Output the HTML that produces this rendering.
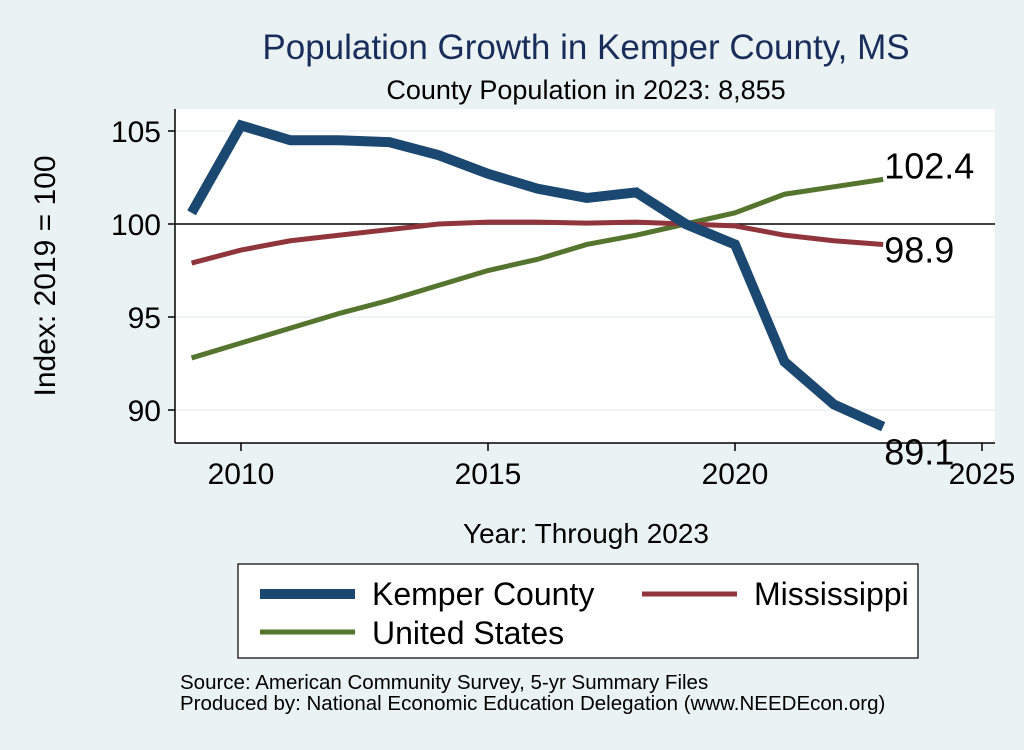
<!DOCTYPE html>
<html><head><meta charset="utf-8"><style>
body{margin:0;background:#eaf2f3;width:1024px;height:745px;overflow:hidden;font-family:"Liberation Sans",sans-serif}
</style></head><body>
<svg width="1024" height="745">
<rect x="0" y="0" width="1024" height="745" fill="#eaf2f3"/>
<text x="586" y="59" font-size="35" fill="#1a2d5a" text-anchor="middle">Population Growth in Kemper County, MS</text>
<text x="586" y="99" font-size="27" fill="#000" text-anchor="middle">County Population in 2023: 8,855</text>
<rect x="175" y="109" width="820" height="334" fill="#fff"/>
<g id="grid"></g>
<line x1="175" y1="109" x2="175" y2="443" stroke="#000" stroke-width="1.5"/>
<line x1="175" y1="443" x2="995" y2="443" stroke="#000" stroke-width="1.5"/>
<g id="ticks"></g>
<g id="series"></g>
<text transform="translate(55,276) rotate(-90)" font-size="30" text-anchor="middle">Index: 2019 = 100</text>
<text x="586" y="543" font-size="28" text-anchor="middle">Year: Through 2023</text>
<g>
<rect x="238" y="564" width="680" height="94" fill="#fff" stroke="#000" stroke-width="1.2"/>
<line x1="260" y1="594" x2="355" y2="594" stroke="#1a4871" stroke-width="10"/>
<text x="372" y="605" font-size="32">Kemper  County</text>
<line x1="642" y1="594" x2="737" y2="594" stroke="#90353b" stroke-width="5"/>
<text x="754" y="605" font-size="32">Mississippi</text>
<line x1="260" y1="632" x2="355" y2="632" stroke="#55752f" stroke-width="5"/>
<text x="372" y="644" font-size="32">United States</text>
</g>
<text x="180" y="689" font-size="20.5">Source: American Community Survey, 5-yr Summary Files</text>
<text x="180" y="710" font-size="20.5">Produced by: National Economic Education Delegation (www.NEEDEcon.org)</text>
</svg>
<script>
const years=[2009,2010,2011,2012,2013,2014,2015,2016,2017,2018,2019,2020,2021,2022,2023];
const kemper=[100.6,105.3,104.5,104.5,104.4,103.7,102.7,101.9,101.4,101.7,100,98.9,92.6,90.3,89.1];
const mississippi=[97.9,98.6,99.1,99.4,99.7,100.0,100.1,100.1,100.05,100.1,100,99.9,99.4,99.1,98.9];
const unitedStates=[92.8,93.6,94.4,95.2,95.9,96.7,97.5,98.1,98.9,99.4,100,100.6,101.6,102.0,102.4];
const xTicks=[2010,2015,2020,2025];
const yTicks=[90,95,100,105];
const NS='http://www.w3.org/2000/svg';
const X=v=>241+(v-2010)*49.4;
const Y=v=>224-(v-100)*18.6;
function mk(tag,attrs,parent){const e=document.createElementNS(NS,tag);for(const k in attrs)e.setAttribute(k,attrs[k]);parent.appendChild(e);return e;}
const grid=document.getElementById('grid'),ticks=document.getElementById('ticks'),series=document.getElementById('series');
yTicks.forEach(t=>{
 const g=mk('line',{x1:175,x2:995,y1:Y(t),y2:Y(t),stroke:t===100?'#000':'#eaf2f3','stroke-width':1.5},grid);
 
 
 const l=mk('line',{x1:168,x2:175,y1:Y(t),y2:Y(t),stroke:'#000','stroke-width':1.5},ticks);
 
 
 const tx=mk('text',{x:161,y:Y(t)+11,'font-size':30,'text-anchor':'end'},ticks);tx.textContent=t;
 
 
});
xTicks.forEach(t=>{
 const l=mk('line',{x1:X(t),x2:X(t),y1:443,y2:451,stroke:'#000','stroke-width':1.5},ticks);
 
 
 const tx=mk('text',{x:X(t),y:484,'font-size':30,'text-anchor':'middle'},ticks);tx.textContent=t;
 
 
});
function line(vals,color,w,name,lblDy){
 const p=mk('polyline',{points:vals.map((v,i)=>X(years[i])+','+Y(v)).join(' '),fill:'none',stroke:color,'stroke-width':w,'stroke-linejoin':'miter'},series);
 
 
 const last=vals[vals.length-1];
 const tx=mk('text',{x:X(years[years.length-1])+1,y:Y(last)+lblDy,'font-size':36},series);tx.textContent=last.toFixed(1);
 
 
}
line(unitedStates,'#55752f',5,'us-line',-1);
line(mississippi,'#90353b',5,'mississippi-line',18);
line(kemper,'#1a4871',10,'kemper-line',38);
</script>
</body></html>
